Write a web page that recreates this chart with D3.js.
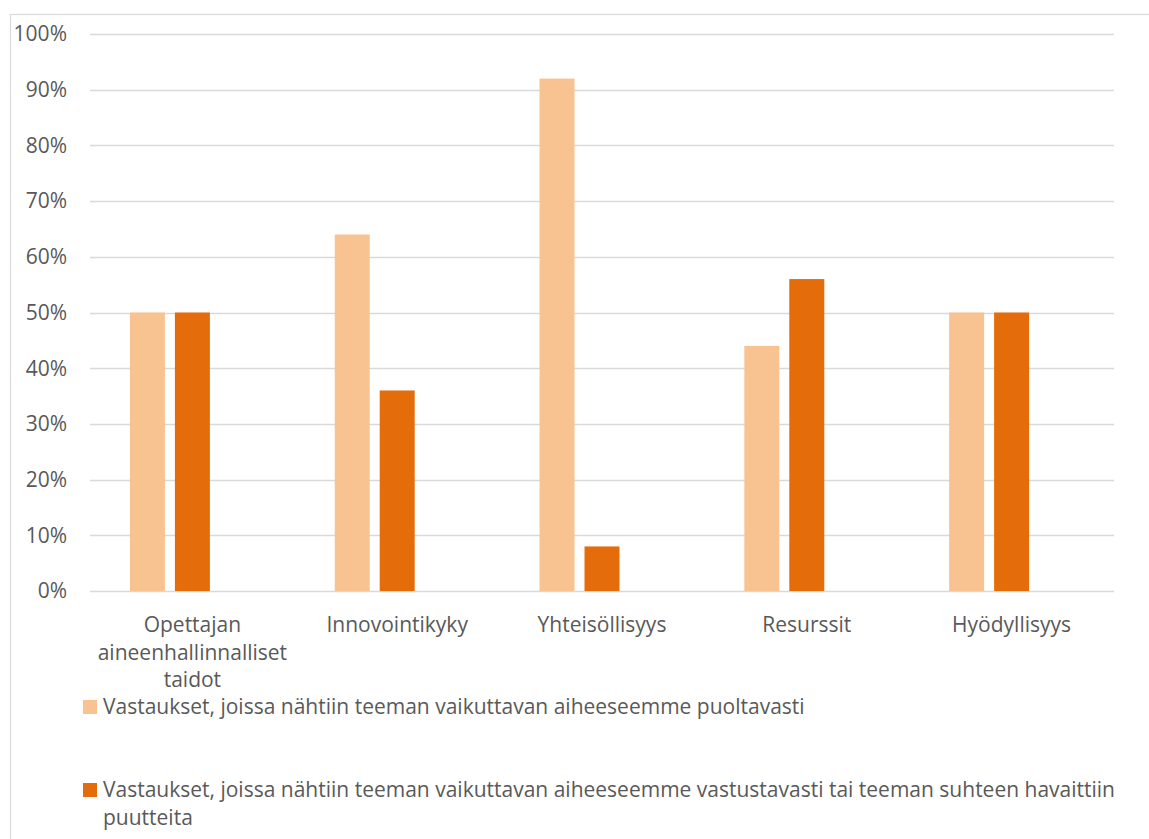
<!DOCTYPE html>
<html>
<head>
<meta charset="utf-8">
<script src="https://cdn.jsdelivr.net/npm/d3@7"></script>
<style>
  body { margin: 0; background: #ffffff; }
  svg { display: block; font-family: "Open Sans", "Noto Sans", sans-serif; }
</style>
</head>
<body>
<svg id="chart"></svg>
<script>
const categories = ['Opettajan aineenhallinnalliset taidot', 'Innovointikyky', 'Yhteisöllisyys', 'Resurssit', 'Hyödyllisyys'];
const seriesNames = [
  'Vastaukset, joissa nähtiin teeman vaikuttavan aiheeseemme puoltavasti',
  'Vastaukset, joissa nähtiin teeman vaikuttavan aiheeseemme vastustavasti tai teeman suhteen havaittiin puutteita'
];
const positiveValues = [50, 64, 92, 44, 50];
const negativeValues = [50, 36, 8, 56, 50];
const yTicks = [0, 10, 20, 30, 40, 50, 60, 70, 80, 90, 100];
const colors = ['#f9c291', '#e46c0a'];

const width = 1149;
const height = 839;
const margin = { top: 34, right: 35, bottom: 248, left: 90 };

const svg = d3.select('#chart')
  .attr('width', width)
  .attr('height', height);

// pick a font size so the first legend line spans about as wide as in the original
const probe = svg.append('text').style('font-size', '18px').text(seriesNames[0]);
const fs = Math.min(22, 18 * 702 / probe.node().getComputedTextLength());
probe.remove();

// chart area border
svg.append('rect')
  .attr('x', 10.5)
  .attr('y', 14.5)
  .attr('width', width + 10)
  .attr('height', height + 10)
  .attr('fill', 'none')
  .attr('stroke', '#d9d9d9')
  .attr('stroke-width', 1.2);

const x0 = d3.scaleBand()
  .domain(categories)
  .range([margin.left, width - margin.right])
  .padding(0);

// three slots per group, the last one stays empty
const x1 = d3.scaleBand()
  .domain([0, 1, 2])
  .range([x0.bandwidth() * 0.195, x0.bandwidth() * 0.805])
  .paddingInner(0.222);

const y = d3.scaleLinear()
  .domain([0, 100])
  .range([height - margin.bottom, margin.top]);

// gridlines
svg.append('g')
  .selectAll('line')
  .data(yTicks)
  .enter().append('line')
  .attr('x1', margin.left)
  .attr('x2', width - margin.right)
  .attr('y1', d => Math.round(y(d)) + 0.5)
  .attr('y2', d => Math.round(y(d)) + 0.5)
  .attr('stroke', '#d9d9d9')
  .attr('stroke-width', 1.5);

// y tick labels
svg.append('g')
  .selectAll('text')
  .data(yTicks)
  .enter().append('text')
  .attr('x', 67)
  .attr('y', d => y(d))
  .attr('dy', '0.35em')
  .attr('text-anchor', 'end')
  .attr('fill', '#595959')
  .style('font-size', fs + 'px')
  .text(d => d + '%');

const series = [positiveValues, negativeValues];

series.forEach((vals, si) => {
  svg.append('g')
    .selectAll('rect')
    .data(vals)
    .enter().append('rect')
    .attr('x', (d, i) => x0(categories[i]) + x1(si))
    .attr('y', d => y(d))
    .attr('width', x1.bandwidth())
    .attr('height', d => y(0) - y(d))
    .attr('fill', colors[si]);
});

function wrapWords(text, maxWidth) {
  const words = text.split(' ');
  const lines = [];
  let line = '';
  const p = svg.append('text').style('font-size', fs + 'px');
  words.forEach(w => {
    const test = line ? line + ' ' + w : w;
    p.text(test);
    if (p.node().getComputedTextLength() > maxWidth && line) {
      lines.push(line);
      line = w;
    } else {
      line = test;
    }
  });
  lines.push(line);
  p.remove();
  return lines;
}

// category labels, wrapped
categories.forEach(c => {
  const lines = wrapWords(c, 200);
  const t = svg.append('text')
    .attr('text-anchor', 'middle')
    .attr('fill', '#595959')
    .style('font-size', fs + 'px');
  lines.forEach((l, i) => {
    t.append('tspan')
      .attr('x', x0(c) + x0.bandwidth() / 2)
      .attr('y', 632 + i * 27.5)
      .text(l);
  });
});

// legend
const legendRows = [
  { lines: [seriesNames[0]], y: 714 },
  { lines: wrapWords(seriesNames[1], 1030), y: 797 }
];
legendRows.forEach((row, i) => {
  svg.append('rect')
    .attr('x', 83)
    .attr('y', row.y - 14)
    .attr('width', 14)
    .attr('height', 14)
    .attr('fill', colors[i]);
  const t = svg.append('text')
    .attr('fill', '#595959')
    .style('font-size', fs + 'px');
  row.lines.forEach((l, j) => {
    t.append('tspan')
      .attr('x', 103)
      .attr('y', row.y + j * 27.5)
      .text(l);
  });
});
</script>
</body>
</html>
